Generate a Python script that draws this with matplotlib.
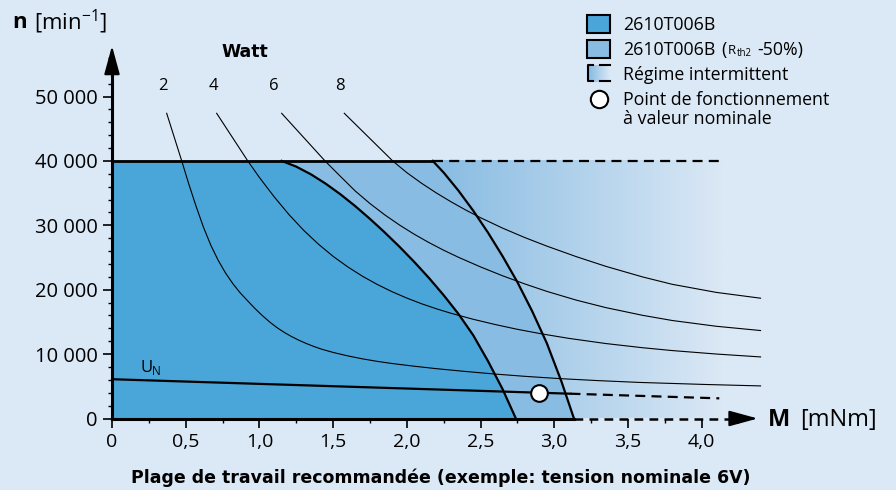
import numpy as np
import matplotlib.pyplot as plt
import matplotlib.patches as patches
from matplotlib.colors import to_rgb

plt.rcParams['font.family'] = ['Open Sans', 'DejaVu Sans']

# ---- data ----
x_ticks = [0, 0.5, 1.0, 1.5, 2.0, 2.5, 3.0, 3.5, 4.0]
x_labels = ['0', '0,5', '1,0', '1,5', '2,0', '2,5', '3,0', '3,5', '4,0']
y_ticks = [0, 10000, 20000, 30000, 40000, 50000]
y_labels = ['0', '10 000', '20 000', '30 000', '40 000', '50 000']

n_max = 40000          # speed limit line
M_limit_end = 4.14     # end of intermittent area

# boundary of 2610T006B (continuous operation)
dark_M = [1.151, 1.25, 1.35, 1.45, 1.55, 1.65, 1.75, 1.85, 1.95, 2.05, 2.15, 2.25,
          2.35, 2.45, 2.55, 2.65, 2.74]
dark_n = [40000, 39110, 37910, 36460, 34810, 32980, 31000, 28900, 26680, 24330, 21830,
          19150, 16250, 12950, 8950, 4550, 0]

# boundary of 2610T006B (Rth2 -50%)
light_M = [2.176, 2.25, 2.35, 2.45, 2.55, 2.65, 2.75, 2.85, 2.95, 3.05, 3.134]
light_n = [40000, 38190, 35390, 32290, 28890, 25190, 21190, 16690, 11690, 5690, 0]

# iso-power curves (Watt)
watt_labels = ['2', '4', '6', '8']
watt2_M = [0.371, 0.473, 0.52, 0.57, 0.62, 0.67, 0.72, 0.77, 0.82, 0.87, 0.92, 0.97,
           1.02, 1.07, 1.12, 1.17, 1.22, 1.27, 1.32, 1.37, 1.42, 1.50, 1.60, 1.70,
           1.80, 1.90, 2.05, 2.20, 2.40, 2.60, 2.80, 3.04, 3.30, 3.58, 4.03, 4.40]
watt2_n = [47390, 40000, 36480, 32980, 29730, 26930, 24580, 22600, 20930, 19500, 18280,
           17080, 15980, 14980, 14100, 13350, 12700, 12130, 11630, 11180, 10780, 10260,
           9720, 9260, 8870, 8540, 8120, 7740, 7300, 6900, 6550, 6190, 5880, 5600,
           5280, 5060]
watt4_M = [0.71, 0.921, 1.0, 1.1, 1.2, 1.3, 1.4, 1.5, 1.6, 1.7, 1.8, 1.9, 2.0, 2.1,
           2.2, 2.3, 2.45, 2.6, 2.75, 2.92, 3.1, 3.35, 3.6, 3.8, 4.1, 4.4]
watt4_n = [47390, 40000, 37430, 34430, 31680, 29230, 27080, 25180, 23530, 22080, 20810,
           19690, 18700, 17820, 17040, 16340, 15410, 14590, 13850, 13120, 12440, 11640,
           10990, 10550, 10010, 9560]
watt6_M = [1.151, 1.445, 1.55, 1.65, 1.75, 1.85, 1.95, 2.05, 2.15, 2.25, 2.35, 2.5,
           2.65, 2.8, 2.95, 3.15, 3.35, 3.6, 3.8, 4.1, 4.4]
watt6_n = [47390, 40000, 37590, 35330, 33380, 31630, 30050, 28620, 27320, 26130, 25040,
           23540, 22160, 20900, 19740, 18380, 17220, 16020, 15220, 14320, 13660]
watt8_M = [1.576, 1.904, 2.0, 2.1, 2.2, 2.3, 2.4, 2.5, 2.65, 2.8, 2.95, 3.15, 3.35,
           3.6, 3.8, 4.1, 4.4]
watt8_n = [47390, 40000, 38180, 36530, 35030, 33650, 32370, 31180, 29560, 28100, 26770,
           25130, 23630, 21980, 20840, 19580, 18680]

# nominal voltage line U_N
un_M = [0, 3.11, 4.12]
un_n = [6100, 3850, 3130]
op_M, op_n = 2.897, 3950   # operating point at nominal values

# ---- colours ----
bg = '#dbe8f5'
dark = '#4aa5d8'
light = '#88bce2'

fig = plt.figure(figsize=(8.96, 4.9), dpi=100, facecolor=bg)
px_x = 147.4      # px per mNm
px_y = 0.00644    # px per rpm
y_top = 59000
ax = fig.add_axes([112 / 896, 71.5 / 490, 4.5 * px_x / 896, y_top * px_y / 490])
ax.set_facecolor('none')
for s in ax.spines.values():
    s.set_visible(False)

# intermittent area: gradient towards the background
t = np.clip((np.linspace(0, M_limit_end, 400) - 2.2) / (M_limit_end - 2.2), 0, 1)
c0, c1 = np.array(to_rgb(light)), np.array(to_rgb(bg))
grad = (c0[None, :] * (1 - t[:, None]) + c1[None, :] * t[:, None])[None, :, :]
ax.imshow(grad, extent=[0, M_limit_end, 0, n_max], aspect='auto', zorder=1)

ax.fill([0, 0] + light_M, [0, n_max] + light_n, color=light, lw=0, zorder=2)
ax.fill([0, 0] + dark_M, [0, n_max] + dark_n, color=dark, lw=0, zorder=3)

ax.plot(dark_M, dark_n, color='k', lw=1.6, zorder=6)
ax.plot(light_M, light_n, color='k', lw=1.6, zorder=6)

for wm, wn in [(watt2_M, watt2_n), (watt4_M, watt4_n), (watt6_M, watt6_n), (watt8_M, watt8_n)]:
    ax.plot(wm, wn, color='k', lw=0.8, zorder=5, clip_on=False)

# top limit
ax.plot([0, light_M[0]], [n_max, n_max], color='k', lw=2, zorder=6)
ax.plot([light_M[0], M_limit_end], [n_max, n_max], color='k', lw=1.6,
        dashes=(4.5, 2.8), zorder=6)

# U_N line
ax.plot(un_M[:2], un_n[:2], color='k', lw=1.6, zorder=6)
ax.plot(un_M[1:], un_n[1:], color='k', lw=1.6, dashes=(4.5, 2.8), zorder=6)
ax.plot([op_M], [op_n], 'o', ms=12, mfc='white', mec='k', mew=1.5, zorder=8)

# axes with arrows
ax.plot([0, 0], [0, 56000], color='k', lw=2.2, zorder=7, clip_on=False)
ax.annotate('', xy=(0, 58300), xytext=(0, 54000),
            arrowprops=dict(arrowstyle='-|>,head_length=1.1,head_width=0.3',
                            color='k', lw=1.5, mutation_scale=16), zorder=7)
ax.plot([0, light_M[-1]], [0, 0], color='k', lw=2.2, zorder=7, clip_on=False)
ax.plot([light_M[-1], 4.28], [0, 0], color='k', lw=1.8, dashes=(3.5, 2.5),
        zorder=7, clip_on=False)
ax.annotate('', xy=(4.40, 0), xytext=(4.25, 0),
            arrowprops=dict(arrowstyle='-|>,head_length=1.1,head_width=0.3',
                            color='k', lw=1.5, mutation_scale=16), zorder=7)

ax.set_xlim(0, 4.5)
ax.set_ylim(0, y_top)
ax.set_xticks(x_ticks)
ax.set_xticklabels(x_labels)
ax.set_xticks(np.arange(0.25, 4.3, 0.5), minor=True)
ax.set_yticks(y_ticks)
ax.set_yticklabels(y_labels)
ax.set_yticks([v for v in range(2000, 57000, 2000) if v % 10000], minor=True)
ax.tick_params(axis='both', which='major', direction='out', length=6.5, width=1.2,
               colors='k')
ax.tick_params(axis='x', which='major', pad=4, labelsize=14)
ax.tick_params(axis='y', which='major', pad=4, labelsize=14.5)
ax.tick_params(axis='both', which='minor', direction='out', length=3, width=1)

# ---- overlay in pixel coordinates for texts and legend ----
ov = fig.add_axes([0, 0, 1, 1])
ov.axis('off')
ov.patch.set_visible(False)

ov.text(12, 22, 'n', fontsize=16, fontweight='bold', va='center')
ov.text(34, 22, '[min$^{\\mathregular{-1}}$]', fontsize=16, va='center')
ov.text(768, 420, 'M', fontsize=17, fontweight='bold', va='center')
ov.text(800, 420, '[mNm]', fontsize=17, va='center')
ov.text(245, 52, 'Watt', fontsize=12.5, fontweight='bold', ha='center', va='center',
        family='DejaVu Sans')
for lab, xp in zip(watt_labels, [163, 213, 274, 340]):
    ov.text(xp, 86, lab, fontsize=12, ha='center', va='center')
ov.text(140, 368, 'U', fontsize=12, va='center')
ov.text(152, 371, 'N', fontsize=8.5, va='center')
ov.text(441, 478, 'Plage de travail recommandée (exemple: tension nominale 6V)',
        fontsize=12.5, fontweight='bold', ha='center', va='center', family='DejaVu Sans')

# legend
ov.add_patch(patches.Rectangle((587, 15), 23, 18, facecolor=dark, edgecolor='k', lw=1.5))
ov.add_patch(patches.Rectangle((587, 40), 23, 18, facecolor=light, edgecolor='k', lw=1.5))
tl = np.linspace(0, 1, 50)
lg = (c0[None, :] * (1 - tl[:, None]) + c1[None, :] * tl[:, None])[None, :, :]
ov.imshow(lg, extent=[589, 610, 82, 65], aspect='auto', zorder=1)
ov.plot([593, 588, 588, 593], [65.5, 65.5, 81.5, 81.5], color='k', lw=1.5)
ov.plot([600, 610], [65.5, 65.5], color='k', lw=1.5)
ov.plot([600, 610], [81.5, 81.5], color='k', lw=1.5)
ov.plot([599], [99], 'o', ms=12.5, mfc='white', mec='k', mew=1.5)
ov.set_xlim(0, 896)
ov.set_ylim(490, 0)

fs = 12.8
ov.text(623, 25, '2610T006B', fontsize=fs, va='center')
ov.text(623, 50, '2610T006B', fontsize=fs, va='center')
ov.text(721, 50, '(', fontsize=fs, va='center')
ov.text(728, 51, 'R', fontsize=9.5, va='center')
ov.text(736.5, 53, 'th2', fontsize=7, va='center')
ov.text(757, 50, '-50%)', fontsize=fs, va='center')
ov.text(623, 75, 'Régime intermittent', fontsize=fs, va='center')
ov.text(623, 100, 'Point de fonctionnement', fontsize=fs, va='center')
ov.text(623, 119, 'à valeur nominale', fontsize=fs, va='center')

fig.savefig('out.png', dpi=100, facecolor=bg)
